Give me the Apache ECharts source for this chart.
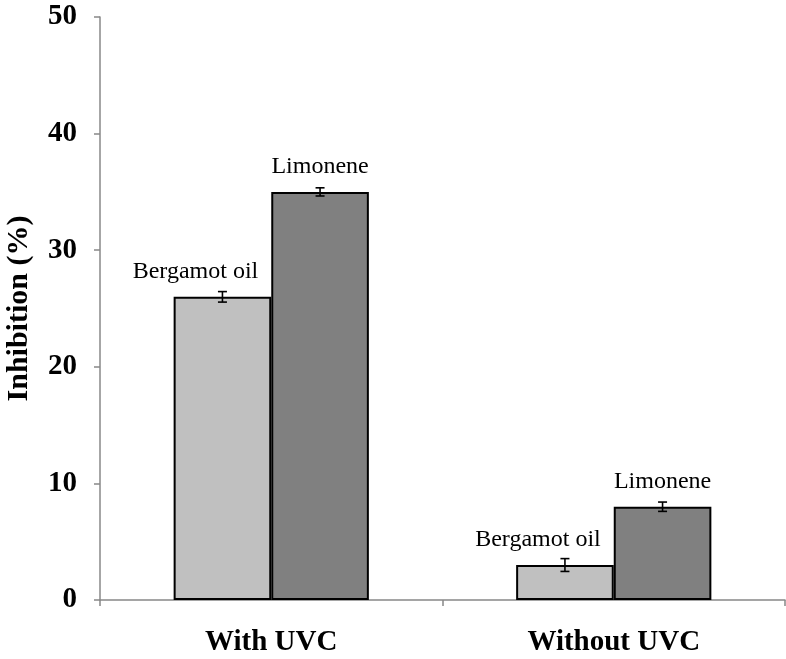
<!DOCTYPE html>
<html><head><meta charset="utf-8">
<script src="https://cdn.jsdelivr.net/npm/echarts@6/dist/echarts.min.js"></script>
<style>html,body{margin:0;padding:0;background:#fff}#c{width:786px;height:659px}</style>
</head><body><div id="c"></div>
<script>
const categories = ['With UVC', 'Without UVC'];
const seriesNames = ['Bergamot oil', 'Limonene'];
const bergamot = [26.0, 3.0];
const limonene = [35.0, 8.0];
const bergamotErr = [0.45, 0.55];
const limoneneErr = [0.35, 0.4];
const yTicks = [0, 10, 20, 30, 40, 50];

const serif = '"Liberation Serif", "Times New Roman", serif';
const chart = echarts.init(document.getElementById('c'));

function errSeries(vals, errs, idx) {
  return {
    type: 'custom',
    z: 10,
    data: vals.map((v, i) => [i, v - errs[i], v + errs[i]]),
    renderItem: function (params, api) {
      const xi = api.value(0);
      const lo = api.coord([xi, api.value(1)]);
      const hi = api.coord([xi, api.value(2)]);
      const bw = api.size([1, 0])[0];
      const barW = bw * 0.285;
      const cx = lo[0] + (idx === 0 ? -barW / 2 : barW / 2);
      const cap = 4.5;
      const st = { stroke: '#000', lineWidth: 1.6 };
      return {
        type: 'group',
        children: [
          { type: 'line', shape: { x1: cx, y1: lo[1], x2: cx, y2: hi[1] }, style: st },
          { type: 'line', shape: { x1: cx - cap, y1: lo[1], x2: cx + cap, y2: lo[1] }, style: st },
          { type: 'line', shape: { x1: cx - cap, y1: hi[1], x2: cx + cap, y2: hi[1] }, style: st }
        ]
      };
    }
  };
}

chart.setOption({
  animation: false,
  backgroundColor: '#fff',
  grid: { left: 100, right: 1, top: 17, bottom: 59, containLabel: false, outerBoundsMode: 'none' },
  xAxis: {
    type: 'category',
    data: categories,
    axisLine: { lineStyle: { color: '#888', width: 1.5 } },
    axisTick: { show: true, length: 6, lineStyle: { color: '#888', width: 1.5 } },
    axisLabel: { margin: 28, fontFamily: serif, fontWeight: 'bold', fontSize: 29, color: '#000' }
  },
  yAxis: {
    type: 'value',
    min: 0, max: 50, interval: 10,
    name: 'Inhibition (%)',
    nameLocation: 'middle',
    nameGap: 66,
    nameTextStyle: { fontFamily: serif, fontWeight: 'bold', fontSize: 30, color: '#000' },
    axisLine: { show: true, lineStyle: { color: '#888', width: 1.5 } },
    axisTick: { show: true, length: 6, lineStyle: { color: '#888', width: 1.5 } },
    splitLine: { show: false },
    axisLabel: { margin: 23, fontFamily: serif, fontWeight: 'bold', fontSize: 29, color: '#000',
      formatter: v => yTicks.includes(v) ? String(v) : '' }
  },
  series: [
    {
      name: seriesNames[0], type: 'bar', data: bergamot,
      barWidth: '28.5%', barGap: '0%',
      itemStyle: { color: '#c0c0c0', borderColor: '#000', borderWidth: 2 },
      label: { show: true, position: 'top', distance: 13, offset: [-27, 0], formatter: seriesNames[0],
        fontFamily: serif, fontSize: 24, color: '#000' }
    },
    {
      name: seriesNames[1], type: 'bar', data: limonene,
      barWidth: '28.5%', barGap: '0%',
      itemStyle: { color: '#808080', borderColor: '#000', borderWidth: 2 },
      label: { show: true, position: 'top', distance: 13, formatter: seriesNames[1],
        fontFamily: serif, fontSize: 24, color: '#000' }
    },
    errSeries(bergamot, bergamotErr, 0),
    errSeries(limonene, limoneneErr, 1)
  ]
});
</script></body></html>
